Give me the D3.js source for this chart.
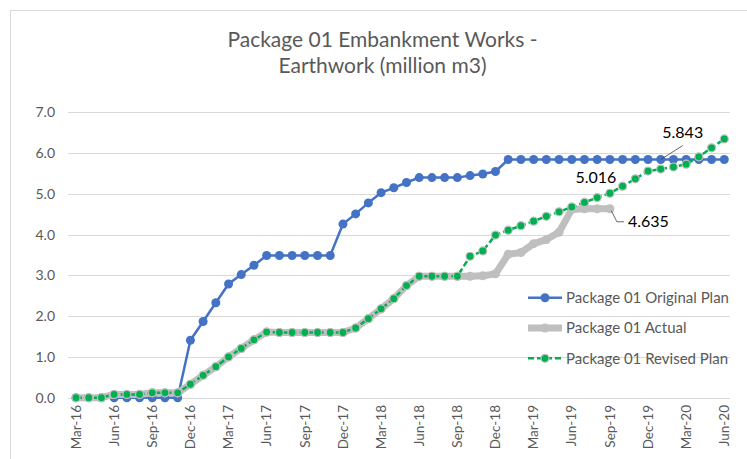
<!DOCTYPE html>
<html>
<head>
<meta charset="utf-8">
<script src="https://cdn.jsdelivr.net/npm/d3@7"></script>
<style>
  body { margin: 0; background: #fff; }
  svg { display: block; }
</style>
</head>
<body>
<svg id="chart" width="747" height="459"></svg>
<script>
let months = [
  "Mar-16","Apr-16","May-16","Jun-16","Jul-16","Aug-16","Sep-16","Oct-16","Nov-16","Dec-16",
  "Jan-17","Feb-17","Mar-17","Apr-17","May-17","Jun-17","Jul-17","Aug-17","Sep-17","Oct-17","Nov-17","Dec-17",
  "Jan-18","Feb-18","Mar-18","Apr-18","May-18","Jun-18","Jul-18","Aug-18","Sep-18","Oct-18","Nov-18","Dec-18",
  "Jan-19","Feb-19","Mar-19","Apr-19","May-19","Jun-19","Jul-19","Aug-19","Sep-19","Oct-19","Nov-19","Dec-19",
  "Jan-20","Feb-20","Mar-20","Apr-20","May-20","Jun-20"
];

let originalPlan = [
  0, 0, 0, 0, 0, 0, 0, 0, 0, 1.41,
  1.87, 2.33, 2.79, 3.02, 3.25, 3.49, 3.49, 3.49, 3.49, 3.49, 3.49, 4.26,
  4.51, 4.78, 5.03, 5.15, 5.28, 5.40, 5.40, 5.40, 5.40, 5.45, 5.49, 5.55,
  5.843, 5.843, 5.843, 5.843, 5.843, 5.843, 5.843, 5.843, 5.843, 5.843, 5.843, 5.843,
  5.843, 5.843, 5.843, 5.843, 5.843, 5.843
];

let actual = [
  0, 0, 0, 0.08, 0.08, 0.08, 0.12, 0.12, 0.12, 0.33,
  0.55, 0.76, 1.00, 1.21, 1.42, 1.61, 1.60, 1.60, 1.60, 1.60, 1.60, 1.60,
  1.71, 1.94, 2.18, 2.43, 2.75, 2.98, 2.98, 2.98, 2.98, 2.98, 2.99, 3.04,
  3.52, 3.56, 3.78, 3.88, 4.06, 4.62, 4.635, 4.635, 4.635, null, null, null,
  null, null, null, null, null, null
];

let revisedPlan = [
  0, 0, 0, 0.08, 0.08, 0.08, 0.12, 0.12, 0.12, 0.33,
  0.55, 0.76, 1.00, 1.21, 1.42, 1.61, 1.60, 1.60, 1.60, 1.60, 1.60, 1.60,
  1.71, 1.94, 2.18, 2.43, 2.75, 2.98, 2.98, 2.98, 2.98, 3.47, 3.60, 3.99,
  4.11, 4.22, 4.33, 4.45, 4.56, 4.68, 4.79, 4.91, 5.016, 5.19, 5.37, 5.56,
  5.61, 5.66, 5.73, 5.91, 6.13, 6.35
];

let yTicks = [0, 1, 2, 3, 4, 5, 6, 7];
let seriesNames = ["Package 01 Original Plan", "Package 01 Actual", "Package 01 Revised Plan"];
let titleLines = ["Package 01 Embankment Works -", "Earthwork (million m3)"];

let blueColor = "#4472c4";
let greyColor = "#bfbfbf";
let greenColor = "#00b050";
let textColor = "#595959";
let gridColor = "#d9d9d9";
let fontFamily = "Lato, 'Open Sans', sans-serif";

let svg = d3.select("#chart");

let x = d3.scalePoint()
  .domain(months)
  .range([76, 724.3]);

let y = d3.scaleLinear()
  .domain([0, 7])
  .range([397.7, 112.4]);

// chart border
svg.append("rect")
  .attr("x", 10.5)
  .attr("y", 10.5)
  .attr("width", 800)
  .attr("height", 500)
  .style("fill", "none")
  .style("stroke", gridColor)
  .style("stroke-width", "1px");

// title
svg.selectAll(".title")
  .data(titleLines)
  .enter()
  .append("text")
    .attr("x", 382.5)
    .attr("y", function(d, i) { return 47 + i * 26; })
    .text(function(d) { return d; })
    .style("text-anchor", "middle")
    .style("font-family", fontFamily)
    .style("font-size", "21px")
    .style("fill", textColor);

// gridlines
svg.selectAll(".grid")
  .data(yTicks)
  .enter()
  .append("line")
    .attr("x1", 68)
    .attr("x2", 730)
    .attr("y1", function(d) { return Math.round(y(d)) + 0.5; })
    .attr("y2", function(d) { return Math.round(y(d)) + 0.5; })
    .style("stroke", gridColor)
    .style("stroke-width", "1px");

// y axis labels
svg.selectAll(".yLabel")
  .data(yTicks)
  .enter()
  .append("text")
    .attr("x", 55)
    .attr("y", function(d) { return y(d); })
    .attr("dy", "0.35em")
    .text(function(d) { return d3.format(".1f")(d); })
    .style("text-anchor", "end")
    .style("font-family", fontFamily)
    .style("font-size", "14px")
    .style("fill", textColor);

// x axis labels, every third month
svg.selectAll(".xLabel")
  .data(months.filter(function(d, i) { return i % 3 == 0; }))
  .enter()
  .append("text")
    .attr("transform", function(d) { return "translate(" + x(d) + ",405) rotate(-90)"; })
    .attr("dy", "0.35em")
    .text(function(d) { return d; })
    .style("text-anchor", "end")
    .style("font-family", fontFamily)
    .style("font-size", "13.5px")
    .style("fill", textColor);

let line = d3.line()
  .defined(function(d) { return d != null; })
  .x(function(d, i) { return x(months[i]); })
  .y(function(d) { return y(d); });

function pointsOf(values) {
  return values
    .map(function(d, i) { return { month: months[i], value: d }; })
    .filter(function(d) { return d.value != null; });
}

// original plan
svg.append("path")
  .attr("d", line(originalPlan))
  .style("fill", "none")
  .style("stroke", blueColor)
  .style("stroke-width", "2.5px");
svg.selectAll(".bluePt")
  .data(pointsOf(originalPlan))
  .enter()
  .append("circle")
    .attr("cx", function(d) { return x(d.month); })
    .attr("cy", function(d) { return y(d.value); })
    .attr("r", 4.5)
    .style("fill", blueColor);

// actual
svg.append("path")
  .attr("d", line(actual))
  .style("fill", "none")
  .style("stroke", greyColor)
  .style("stroke-width", "7px")
  .style("stroke-linejoin", "round");
svg.selectAll(".greyPt")
  .data(pointsOf(actual))
  .enter()
  .append("circle")
    .attr("cx", function(d) { return x(d.month); })
    .attr("cy", function(d) { return y(d.value); })
    .attr("r", 4.5)
    .style("fill", greyColor);

// revised plan
svg.append("path")
  .attr("d", line(revisedPlan))
  .style("fill", "none")
  .style("stroke", greenColor)
  .style("stroke-width", "2.5px")
  .style("stroke-dasharray", "6,3");
svg.selectAll(".greenPt")
  .data(pointsOf(revisedPlan))
  .enter()
  .append("circle")
    .attr("cx", function(d) { return x(d.month); })
    .attr("cy", function(d) { return y(d.value); })
    .attr("r", 4)
    .style("fill", greenColor)
    .style("stroke", greyColor)
    .style("stroke-width", "1.2px");

// data labels
let blueIdx = 46, greenIdx = 42, greyIdx = 42;
let fmt = d3.format(".3f");

svg.append("line")
  .attr("x1", x(months[blueIdx]))
  .attr("y1", y(originalPlan[blueIdx]))
  .attr("x2", x(months[blueIdx]) + 22)
  .attr("y2", y(originalPlan[blueIdx]) - 14)
  .style("stroke", "#404040")
  .style("stroke-width", "0.8px");
svg.append("text")
  .attr("x", x(months[blueIdx]) + 22)
  .attr("y", y(originalPlan[blueIdx]) - 22)
  .text(fmt(originalPlan[blueIdx]))
  .style("text-anchor", "middle")
  .style("font-family", fontFamily)
  .style("font-size", "16px")
  .style("fill", "#000");

svg.append("text")
  .attr("x", x(months[greenIdx]) - 14)
  .attr("y", y(revisedPlan[greenIdx]) - 10)
  .text(fmt(revisedPlan[greenIdx]))
  .style("text-anchor", "middle")
  .style("font-family", fontFamily)
  .style("font-size", "16px")
  .style("fill", "#000");

let gx = x(months[greyIdx]), gy = y(actual[greyIdx]);
svg.append("polyline")
  .attr("points", [[gx + 1.5, gy + 2], [gx + 7, gy + 13], [gx + 14, gy + 13]].join(" "))
  .style("fill", "none")
  .style("stroke", "#404040")
  .style("stroke-width", "0.8px");
svg.append("text")
  .attr("x", gx + 18)
  .attr("y", gy + 13)
  .attr("dy", "0.35em")
  .text(fmt(actual[greyIdx]))
  .style("font-family", fontFamily)
  .style("font-size", "16px")
  .style("fill", "#000");

// legend
let legend = svg.selectAll(".legend")
  .data(seriesNames)
  .enter()
  .append("g")
    .attr("transform", function(d, i) { return "translate(528," + (297.7 + i * 30.3) + ")"; });

legend.append("line")
  .attr("x1", 0)
  .attr("x2", 34)
  .style("stroke", function(d, i) { return [blueColor, greyColor, greenColor][i]; })
  .style("stroke-width", function(d, i) { return i == 1 ? "7px" : "2.5px"; })
  .style("stroke-dasharray", function(d, i) { return i == 2 ? "6,3" : null; });

legend.append("circle")
  .attr("cx", 17)
  .attr("r", function(d, i) { return i == 2 ? 4 : 4.5; })
  .style("fill", function(d, i) { return [blueColor, greyColor, greenColor][i]; })
  .style("stroke", function(d, i) { return i == 2 ? greyColor : "none"; })
  .style("stroke-width", "1.2px");

legend.append("text")
  .attr("x", 38)
  .attr("dy", "0.35em")
  .text(function(d) { return d; })
  .style("font-family", fontFamily)
  .style("font-size", "15px")
  .style("fill", textColor);
</script>
</body>
</html>
